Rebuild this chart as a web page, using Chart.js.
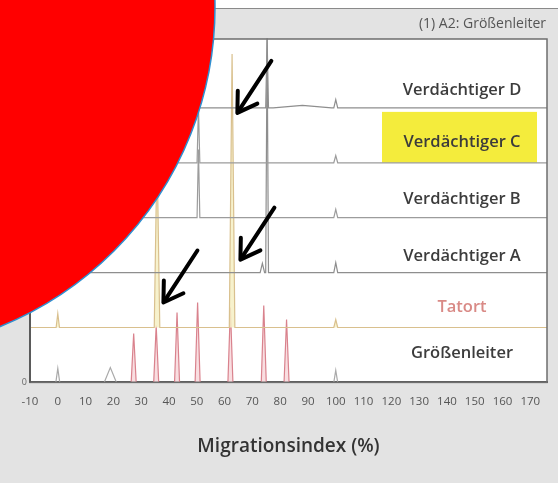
<!DOCTYPE html>
<html><head><meta charset="utf-8">
<script src="https://cdn.jsdelivr.net/npm/chart.js@4/dist/chart.umd.min.js"></script>
<style>html,body{margin:0;padding:0;background:#e3e3e3;overflow:hidden}#wrap{position:relative;width:558px;height:483px}</style>
</head><body><div id="wrap"><canvas id="c" width="558" height="483"></canvas></div>
<script>
// ---- text ----
const traceNames = ['Verdächtiger D', 'Verdächtiger C', 'Verdächtiger B', 'Verdächtiger A', 'Tatort', 'Größenleiter'];
const headerText = '(1) A2: Größenleiter';
const xTitle = 'Migrationsindex (%)';
const xTicks = [-10, 0, 10, 20, 30, 40, 50, 60, 70, 80, 90, 100, 110, 120, 130, 140, 150, 160, 170];
const yTickValues = [0];

// ---- peaks (Migrationsindex, height in RFU where 1000 = one lane, half width) ----
const dPeakPos = [0, 75.3, 88, 100];
const dPeakHeight = [180, 1270, 45, 150];
const dPeakHalfWidth = [0.6, 0.5, 10.5, 0.7];

const cPeakPos = [0, 50.6, 100];
const cPeakHeight = [180, 1020, 130];
const cPeakHalfWidth = [0.6, 0.5, 0.7];

const bPeakPos = [0, 50.6, 100];
const bPeakHeight = [180, 1240, 150];
const bPeakHalfWidth = [0.6, 0.5, 0.7];

const aPeakPos = [0, 73.6, 75.3, 100];
const aPeakHeight = [180, 170, 4236, 180];
const aPeakHalfWidth = [0.6, 0.8, 0.5, 0.7];

const tPeakPos = [0, 35.7, 62.7, 100];
const tPeakHeight = [255, 3220, 4980, 145];
const tPeakHalfWidth = [0.6, 1.0, 1.0, 0.7];

const ladderPeakPos = [27.3, 35.4, 42.9, 50.3, 62.1, 74.1, 82.3];
const ladderPeakHeight = [890, 1035, 1275, 1455, 1365, 1400, 1145];
const ladderPeakHalfWidth = [0.9, 0.9, 0.9, 0.9, 0.9, 0.9, 0.9];

const markerPeakPos = [0, 18.9, 100];
const markerPeakHeight = [255, 270, 220];
const markerPeakHalfWidth = [0.7, 2.2, 0.7];

// arrows point at these peaks (x in Migrationsindex, y in RFU of the lane)
const arrowTargets = [
  {x: 64.6, y: -90, lane: 'yD'},
  {x: 65.7, y: 236, lane: 'yA'},
  {x: 38.0, y: 455, lane: 'yT'}
];

const X_MIN = -10, X_MAX = 176;

function trace(pos, h, hw) {
  const pts = [{x: X_MIN, y: 0}];
  pos.forEach((p, i) => { pts.push({x: p - hw[i], y: 0}, {x: p, y: h[i]}, {x: p + hw[i], y: 0}); });
  pts.push({x: X_MAX, y: 0});
  return pts;
}
function peaksOnly(pos, h, hw) {
  const pts = [];
  pos.forEach((p, i) => { pts.push({x: p - hw[i], y: 0}, {x: p, y: h[i]}, {x: p + hw[i], y: 0}, {x: p + hw[i] + 0.01, y: null}); });
  return pts;
}

const grey = '#9c9c9c';
function ds(label, data, axis, color, extra) {
  return Object.assign({label, data, yAxisID: axis, showLine: true, borderColor: color, borderWidth: 1.2,
    pointRadius: 0, tension: 0, fill: false, clip: false, spanGaps: false}, extra || {});
}

const datasets = [
  ds(traceNames[0], trace(dPeakPos, dPeakHeight, dPeakHalfWidth), 'yD', '#8e8e8e'),
  ds(traceNames[1], trace(cPeakPos, cPeakHeight, cPeakHalfWidth), 'yC', grey),
  ds(traceNames[2], trace(bPeakPos, bPeakHeight, bPeakHalfWidth), 'yB', grey),
  ds(traceNames[3], trace(aPeakPos, aPeakHeight, aPeakHalfWidth), 'yA', '#8e8e8e'),
  ds(traceNames[4], trace(tPeakPos, tPeakHeight, tPeakHalfWidth), 'yT', '#d9c08e', {fill: 'origin', backgroundColor: 'rgba(246,240,196,0.85)'}),
  ds(traceNames[5], peaksOnly(ladderPeakPos, ladderPeakHeight, ladderPeakHalfWidth), 'yG', '#d9828d', {fill: 'origin', backgroundColor: 'rgba(247,214,218,0.8)'}),
  ds(traceNames[5] + ' Marker', peaksOnly(markerPeakPos, markerPeakHeight, markerPeakHalfWidth), 'yG', '#aaaaaa')
];

function laneAxis(extra) {
  return Object.assign({type: 'linear', position: 'left', stack: 'lanes', stackWeight: 1, min: 0, max: 1000,
    display: true, grid: {display: false, drawTicks: false}, border: {display: false},
    ticks: {display: false}, afterFit: s => { s.width = 30; }}, extra || {});
}

const decor = {
  id: 'decor',
  beforeDraw(chart) {
    const {ctx, chartArea: a, width, height} = chart;
    ctx.save();
    ctx.fillStyle = '#e3e3e3'; ctx.fillRect(0, 0, width, height);
    ctx.fillStyle = '#ffffff'; ctx.fillRect(0, 0, width, 8);
    ctx.fillStyle = '#8a8a8a'; ctx.fillRect(0, 8, width, 1);
    ctx.fillStyle = '#555'; ctx.font = '14px "Open Sans"'; ctx.textAlign = 'right'; ctx.textBaseline = 'middle';
    ctx.fillText(headerText, a.right - 1, 24);
    ctx.fillStyle = '#ffffff'; ctx.fillRect(a.left, a.top, a.right - a.left, a.bottom - a.top);
    const yc = chart.scales.yC;
    ctx.fillStyle = '#f4ec3c'; ctx.fillRect(a.right - 165, yc.top + 4, 155, yc.bottom - yc.top - 4);
    ctx.restore();
  },
  afterDatasetsDraw(chart) {
    const {ctx, chartArea: a} = chart;
    ctx.save();
    // frame
    ctx.strokeStyle = '#6e6e6e'; ctx.lineWidth = 1.5;
    ctx.strokeRect(a.left, a.top, a.right - a.left, a.bottom - a.top);
    ctx.fillStyle = '#5a5a5a'; ctx.fillRect(a.left - 1, a.top, 2, a.bottom - a.top);
    // lane labels
    const lanes = ['yD', 'yC', 'yB', 'yA', 'yT', 'yG'];
    const offs = [18, 20, 18, 16, 20, 29];
    ctx.font = '600 16.5px "Open Sans"'; ctx.textAlign = 'center'; ctx.textBaseline = 'middle';
    lanes.forEach((id, i) => {
      const y = chart.scales[id].getPixelForValue(0) - offs[i];
      ctx.fillStyle = i === 4 ? '#d98a86' : '#3c3c3c';
      ctx.fillText(traceNames[i], a.right - 85, y);
    });
    // arrows
    const xs = chart.scales.x;
    ctx.strokeStyle = '#000'; ctx.lineWidth = 4; ctx.lineCap = 'round'; ctx.lineJoin = 'round';
    arrowTargets.forEach(t => {
      const tx = xs.getPixelForValue(t.x), ty = chart.scales[t.lane].getPixelForValue(t.y);
      const dx = 34, dy = -52, L = Math.hypot(dx, dy);
      const ux = dx / L, uy = dy / L;
      ctx.beginPath(); ctx.moveTo(tx + 2 * ux, ty + 2 * uy); ctx.lineTo(tx + dx, ty + dy); ctx.stroke();
      const ang = 0.56, wl = 22;
      ctx.beginPath();
      ctx.moveTo(tx + wl * (ux * Math.cos(ang) - uy * Math.sin(ang)), ty + wl * (ux * Math.sin(ang) + uy * Math.cos(ang)));
      ctx.lineTo(tx, ty);
      ctx.lineTo(tx + wl * (ux * Math.cos(-ang) - uy * Math.sin(-ang)), ty + wl * (ux * Math.sin(-ang) + uy * Math.cos(-ang)));
      ctx.stroke();
    });
    ctx.restore();
  },
  afterDraw(chart) {
    const ctx = chart.ctx;
    ctx.save();
    ctx.beginPath(); ctx.arc(-130, 7, 345, 0, Math.PI * 2);
    ctx.fillStyle = '#ff0000'; ctx.fill();
    ctx.lineWidth = 1.5; ctx.strokeStyle = '#2f8fd0'; ctx.stroke();
    ctx.restore();
  }
};

new Chart(document.getElementById('c'), {
  type: 'scatter',
  data: {datasets},
  plugins: [decor],
  options: {
    responsive: false, animation: false, devicePixelRatio: 1,
    layout: {padding: {top: 39, right: 11, bottom: 0, left: 0}},
    plugins: {legend: {display: false}, tooltip: {enabled: false}},
    scales: {
      x: {type: 'linear', position: 'bottom', min: X_MIN, max: X_MAX,
        afterBuildTicks: s => { s.ticks = xTicks.map(v => ({value: v})); },
        ticks: {autoSkip: false, maxRotation: 0, color: '#555', font: {family: 'Open Sans', size: 11.5}, padding: 12},
        grid: {display: false, drawTicks: false},
        border: {display: true, color: '#5a5a5a', width: 2},
        title: {display: true, text: xTitle, color: '#333', font: {family: 'Open Sans', size: 19, weight: '600'}, padding: {top: 15, bottom: 25}}
      },
      yG: laneAxis({ticks: {display: true, color: '#666', font: {family: 'Open Sans', size: 9}, padding: 3},
        afterBuildTicks: s => { s.ticks = yTickValues.map(v => ({value: v})); }}),
      yT: laneAxis(),
      yA: laneAxis(),
      yB: laneAxis(),
      yC: laneAxis(),
      yD: laneAxis({stackWeight: 1.2545, max: 1254.5})
    }
  }
});
</script></body></html>
